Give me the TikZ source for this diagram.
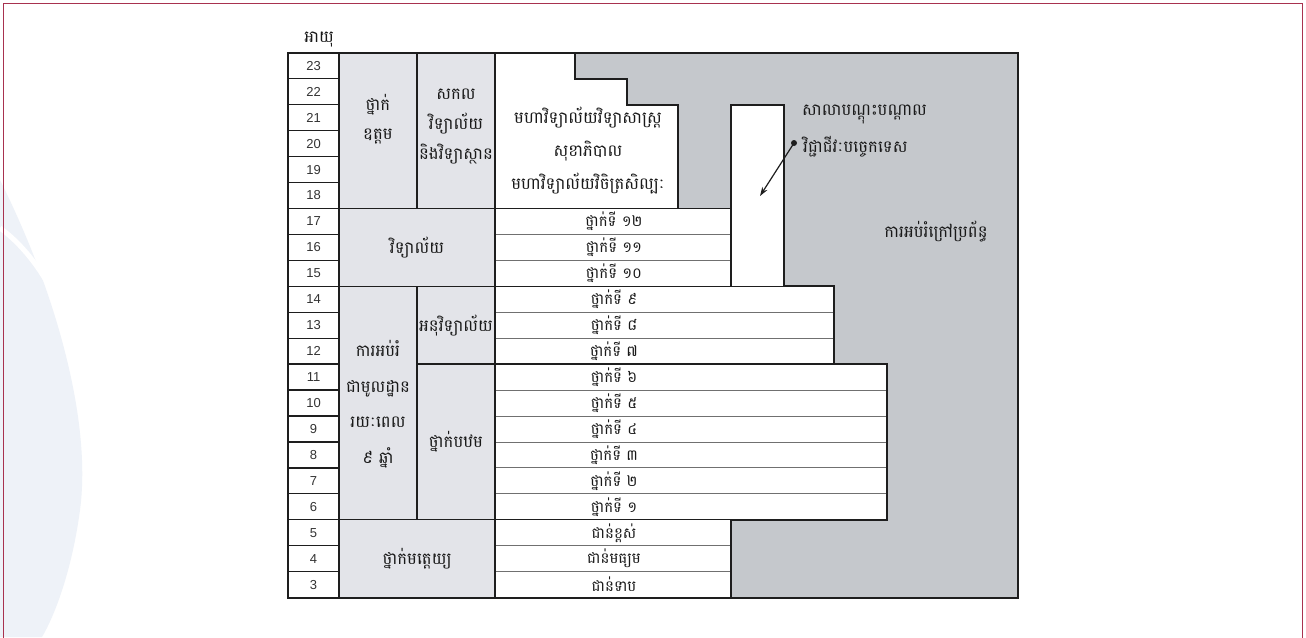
\documentclass[tikz,border=0pt]{standalone}
\usepackage{fontspec}
\setmainfont{Liberation Sans}
\newfontfamily\kh[Script=Khmer]{Battambang}
\usetikzlibrary{arrows.meta}
\definecolor{grayfill}{HTML}{C5C8CC}
\definecolor{labfill}{HTML}{E3E4E9}
\definecolor{frame}{HTML}{1E1E1E}
\definecolor{sepc}{HTML}{707070}
\definecolor{bordc}{HTML}{A8324F}
\definecolor{swoosh}{HTML}{EEF2F8}
\begin{document}
\begin{tikzpicture}[x=1pt,y=-1pt,
  declare function={by(\k)=52.8+\k*25.943;},
  numtxt/.style={inner sep=0,font=\fontsize{13}{13}\selectfont,text=black!80},
  kt/.style={inner sep=0,font=\kh\fontsize{16.5}{18}\selectfont,text=black!90},
  rowt/.style={inner sep=0,font=\kh\fontsize{15}{16}\selectfont,text=black!90},
  ktm/.style={inner sep=0,align=center,font=\kh\fontsize{16.5}{#1}\selectfont,text=black!90},
  thinsep/.style={draw=sepc,line width=0.9pt},
  midline/.style={draw=frame,line width=1.3pt},
  outline/.style={draw=frame,line width=1.9pt,line join=miter},
]
\useasboundingbox (0,0) rectangle (1306,637);
% background
\fill[white] (0,0) rectangle (1306,637);
\fill[swoosh] (0,180) .. controls (55,290) and (92,420) .. (80,510) .. controls (72,570) and (55,615) .. (42,637) -- (0,637) -- cycle;
\draw[white,line width=5pt] (0,228) .. controls (30,250) and (58,290) .. (70,340);
\draw[bordc,line width=1.2pt] (3.5,3.5) rectangle (1302.5,660);

% fills
\fill[grayfill] (495,{by(0)}) rectangle (1018,{by(21)});
\fill[white] (495,{by(0)}) -- (575,{by(0)}) -- (575,{by(1)}) -- (627,{by(1)}) -- (627,{by(2)}) -- (678,{by(2)}) -- (678,{by(6)}) -- (731,{by(6)}) -- (731,{by(2)}) -- (784,{by(2)}) -- (784,{by(9)}) -- (834,{by(9)}) -- (834,{by(12)}) -- (887,{by(12)}) -- (887,{by(18)}) -- (731,{by(18)}) -- (731,{by(21)}) -- (495,{by(21)}) -- cycle;
\fill[labfill] (339,{by(0)}) rectangle (495,{by(21)});
\fill[white] (288,{by(0)}) rectangle (339,{by(21)});

% thin row separators
\foreach \k in {7,8,19,20} \draw[thinsep] (495,{by(\k)}) -- (731,{by(\k)});
\foreach \k in {10,11} \draw[thinsep] (495,{by(\k)}) -- (834,{by(\k)});
\foreach \k in {13,...,17} \draw[thinsep] (495,{by(\k)}) -- (887,{by(\k)});

% number column separators
\foreach \k in {1,...,20} \draw[midline] (288,{by(\k)}) -- (339,{by(\k)});

% main dividers
\draw[midline] (339,{by(0)}) -- (339,{by(21)});
\draw[midline] (495,{by(0)}) -- (495,{by(21)});
\draw[midline] (417,{by(0)}) -- (417,{by(6)});
\draw[midline] (417,{by(9)}) -- (417,{by(18)});
\draw[midline] (288,{by(6)}) -- (731,{by(6)});
\draw[midline] (288,{by(9)}) -- (834,{by(9)});
\draw[midline] (288,{by(18)}) -- (887,{by(18)});
\draw[midline] (417,{by(12)}) -- (834,{by(12)});
\draw[midline] (731,{by(6)}) -- (731,{by(9)});

% outline
\draw[outline] (288,{by(0)}) rectangle (1018,{by(21)});
\draw[outline] (575,{by(0)}) -- (575,{by(1)}) -- (627,{by(1)}) -- (627,{by(2)}) -- (678,{by(2)}) -- (678,{by(6)}) -- (731,{by(6)}) -- (731,{by(2)}) -- (784,{by(2)}) -- (784,{by(9)}) -- (834,{by(9)}) -- (834,{by(12)}) -- (887,{by(12)}) -- (887,{by(18)}) -- (731,{by(18)}) -- (731,{by(21)});

% age numbers
\foreach \n in {3,...,23} \node[numtxt] (age\n) at (313.5,{by(23-\n+0.5)}) {\n};
\node[kt] (ageh) at (319,40) {អាយុ};

% left labels
\node[ktm=29] (uttam) at (378,119) {ថ្នាក់\\ឧត្តម};
\node[ktm=30] (univ) at (456,127) {សកល\\វិទ្យាល័យ\\និងវិទ្យាស្ថាន};
\node[ktm=33] (fac) at (588,151) {មហាវិទ្យាល័យវិទ្យាសាស្ត្រ\\សុខាភិបាល\\មហាវិទ្យាល័យវិចិត្រសិល្បៈ};
\node[kt] (lycee) at (417,{by(7.5)}) {វិទ្យាល័យ};
\node[ktm=35.5] (basic) at (378,404) {ការអប់រំ\\ជាមូលដ្ឋាន\\រយៈពេល\\៩ ឆ្នាំ};
\node[kt] (lower) at (456,{by(10.5)}) {អនុវិទ្យាល័យ};
\node[kt] (prim) at (456,{by(15)}) {ថ្នាក់បឋម};
\node[kt] (pre) at (417,{by(19.5)}) {ថ្នាក់មត្តេយ្យ};

% grade rows
\foreach \t [count=\i from 0] in {ថ្នាក់ទី ១២,ថ្នាក់ទី ១១,ថ្នាក់ទី ១០,ថ្នាក់ទី ៩,ថ្នាក់ទី ៨,ថ្នាក់ទី ៧,ថ្នាក់ទី ៦,ថ្នាក់ទី ៥,ថ្នាក់ទី ៤,ថ្នាក់ទី ៣,ថ្នាក់ទី ២,ថ្នាក់ទី ១,ជាន់ខ្ពស់,ជាន់មធ្យម,ជាន់ទាប}
  \node[rowt] (g\i) at (614,{by(6.5+\i)}) {\t};

% right side
\node[kt,anchor=west] (tvet1) at (802,114) {សាលាបណ្តុះបណ្តាល};
\node[kt,anchor=west] (tvet2) at (803,147) {វិជ្ជាជីវៈបច្ចេកទេស};
\node[kt] (nonformal) at (936,232) {ការអប់រំក្រៅប្រព័ន្ធ};
\node[circle,fill=frame,inner sep=0,minimum size=6pt] (dot) at (794,143) {};
\coordinate (tip) at (760,196);
\draw[frame,line width=1.2pt,-{Stealth[length=9pt,width=6pt]}] (dot.center) -- (tip);
\end{tikzpicture}
\end{document}
